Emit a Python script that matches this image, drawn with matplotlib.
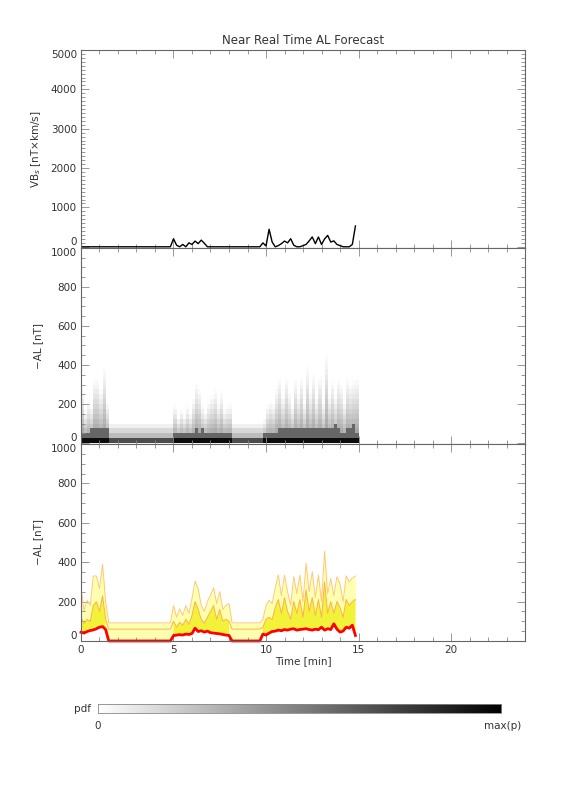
import numpy as np
import matplotlib
matplotlib.use('Agg')
import matplotlib.pyplot as plt
from matplotlib.ticker import MultipleLocator

plt.rcParams['font.family'] = 'DejaVu Sans'
plt.rcParams['font.size'] = 7.5
plt.rcParams['text.color'] = '#333333'

# time axis: one column every 10 s, 0 .. 14.83 min
t = np.arange(90) / 6.0

# VBs solar wind driver [nT km/s]
vbs = [0] * 30 + [205, 40, 0, 60, 0, 100, 60, 145, 80, 170, 90] + [0] * 18 + \
      [100, 20, 445, 120, 0, 30, 80, 145, 100, 205, 40, 0, 0, 30, 60, 150,
       250, 80, 250, 60, 200, 290, 120, 150, 60, 30, 0, 0, 0, 60, 530]

# forecast -AL percentiles [nT]
al_lo = [44, 40, 48, 53, 56, 62, 70, 73, 58] + [0] * 21 + \
        [27, 30, 32, 30, 35, 33, 38, 65, 48, 52, 45, 50, 42, 40, 38, 36, 33, 30, 28] + [0] * 10 + \
        [35, 30, 40, 48, 50, 55, 52, 58, 55, 60, 62, 55, 58, 60, 62, 58,
         55, 60, 57, 70, 55, 62, 58, 87, 60, 45, 50, 70, 65, 80, 28]
al_mid = [120, 90, 110, 100, 180, 200, 150, 230, 110] + [60] * 21 + \
         [100, 70, 95, 80, 110, 85, 130, 200, 160, 110, 90, 120, 150, 180, 110, 160, 100, 110, 100] + [60] * 10 + \
         [70, 110, 120, 110, 170, 210, 140, 220, 150, 110, 200, 140, 210, 120, 260, 150,
          220, 130, 210, 120, 300, 140, 200, 140, 200, 170, 120, 210, 180, 200, 210]
al_hi = [270, 155, 206, 180, 330, 330, 266, 390, 200] + [92] * 21 + \
        [180, 120, 163, 130, 180, 140, 215, 304, 266, 180, 150, 200, 232, 270, 190, 250, 160, 180, 190] + [92] * 10 + \
        [110, 180, 206, 190, 270, 335, 230, 335, 250, 180, 326, 240, 335, 200, 394, 250,
         352, 220, 335, 200, 454, 240, 317, 230, 326, 290, 200, 331, 300, 320, 330]

vbs = np.array(vbs, float)
al_lo = np.array(al_lo, float)
al_mid = np.array(al_mid, float)
al_hi = np.array(al_hi, float)

# pdf image for the middle panel, 25 nT bins, fading upward to the top percentile
bins = np.arange(0, 1025, 25)
centers = (bins[:-1] + bins[1:]) / 2
pdf = np.zeros((len(centers), len(t)))
for j in range(len(t)):
    top = al_hi[j] + 20
    for k, c in enumerate(centers):
        if c < 25:
            pdf[k, j] = 0.95 if al_lo[j] > 0 else 0.7
        elif c < top:
            pdf[k, j] = 0.45 * (1 - c / top) ** 1.3
            if c < al_lo[j] + 12:
                pdf[k, j] = 0.6

fig = plt.figure(figsize=(5.76, 7.92), dpi=100)
L, W = 0.1406, 0.7709
ax1 = fig.add_axes([L, 0.6869, W, 0.2500])
ax2 = fig.add_axes([L, 0.4394, W, 0.2475])
ax3 = fig.add_axes([L, 0.1907, W, 0.2487])


def style(ax, ymaj, ymin):
    ax.set_xlim(0, 24)
    ax.xaxis.set_major_locator(MultipleLocator(5))
    ax.xaxis.set_minor_locator(MultipleLocator(1))
    ax.yaxis.set_major_locator(MultipleLocator(ymaj))
    ax.yaxis.set_minor_locator(MultipleLocator(ymin))
    ax.tick_params(which='both', direction='in', top=True, right=True,
                   color='#888888', labelcolor='#333333', labelsize=7.5, pad=3)
    ax.tick_params(which='major', length=6, width=0.6)
    ax.tick_params(which='minor', length=3, width=0.6)
    for s in ax.spines.values():
        s.set_color('#666666')
        s.set_linewidth(0.8)


def shift_end_labels(ax):
    # keep the end labels inside the panel like the original plot
    lo, hi = ax.get_ylim()
    for tick in ax.yaxis.get_major_ticks():
        v = tick.get_loc()
        if v < lo or v > hi:
            continue
        if abs(v - max(lo, 0)) < 1e-6:
            tick.label1.set_va('bottom')
        elif abs(v - hi) < 1e-6:
            tick.label1.set_va('top')


# top panel
ax1.plot(t, vbs, color='black', lw=1.0)
ax1.set_ylim(-30, 5000)
style(ax1, 1000, 100)
ax1.set_xticklabels([])
ax1.set_ylabel('VB$_s$ [nT×km/s]', color='#333333')
ax1.set_title('Near Real Time AL Forecast', fontsize=8.5, color='#333333', pad=4)

# middle panel
ax2.pcolormesh(np.append(t, t[-1] + 1 / 6), bins, pdf, cmap='gray_r', vmin=0, vmax=1,
               shading='flat')
ax2.set_ylim(-5, 1000)
style(ax2, 200, 50)
ax2.set_xticklabels([])
ax2.set_ylabel('−AL [nT]', color='#333333')

# bottom panel
active = al_lo > 0
ax3.fill_between(t, al_lo, al_hi, color='#ffffb0', lw=0)
ax3.fill_between(t, al_lo, al_mid, where=active, color='#f2f23a', lw=0)
ax3.plot(t, al_hi, color='#ffc878', lw=0.7)
ax3.plot(t, al_mid, color='#ffb050', lw=0.7)
ax3.plot(t, al_lo, color='#ff0000', lw=2.0, clip_on=False)
ax3.set_ylim(0, 1000)
style(ax3, 200, 50)
ax3.set_ylabel('−AL [nT]', color='#333333')
ax3.set_xlabel('Time [min]', color='#333333', labelpad=1)

fig.canvas.draw()
for ax in (ax1, ax2, ax3):
    ax.yaxis.set_label_coords(-0.085, 0.5)
    shift_end_labels(ax)

# colour bar
cax = fig.add_axes([0.170, 0.0997, 0.700, 0.0114])
cax.imshow(np.linspace(0, 1, 256)[None, :], aspect='auto', cmap='gray_r',
           extent=[0, 1, 0, 1])
cax.set_xticks([])
cax.set_yticks([])
for s in cax.spines.values():
    s.set_color('#888888')
    s.set_linewidth(0.6)
fig.text(0.158, 0.105, 'pdf', ha='right', va='center', fontsize=7.5)
fig.text(0.170, 0.083, '0', ha='center', va='center', fontsize=7.5)
fig.text(0.873, 0.083, 'max(p)', ha='center', va='center', fontsize=7.5)

fig.savefig('out.png', dpi=100)
